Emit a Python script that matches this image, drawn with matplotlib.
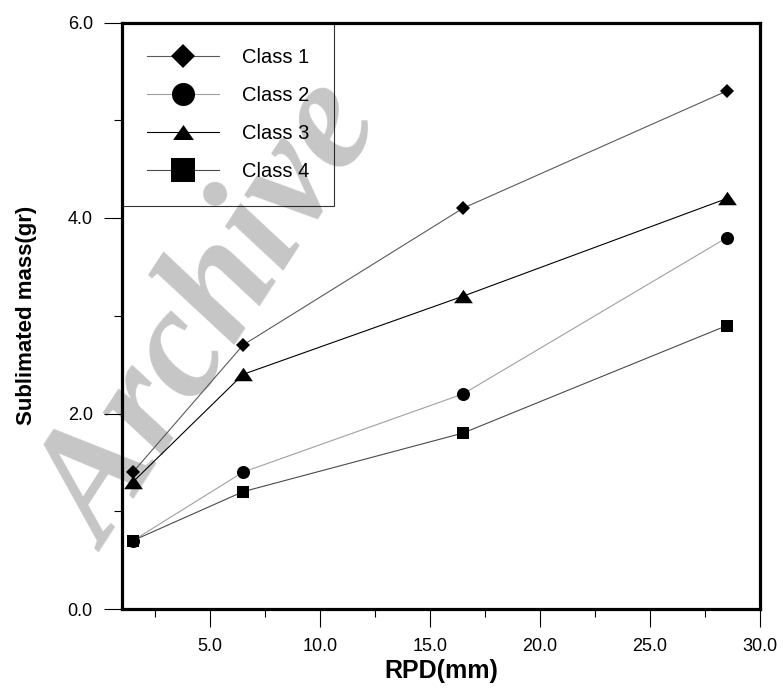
import matplotlib
matplotlib.use("Agg")
import matplotlib.pyplot as plt
from matplotlib.lines import Line2D
from matplotlib.ticker import MultipleLocator, FormatStrFormatter

plt.rcParams['font.family'] = ['Liberation Sans', 'DejaVu Sans']

# ---- data ----
rpd = [1.5, 6.5, 16.5, 28.5]
class1 = [1.4, 2.7, 4.1, 5.3]
class2 = [0.7, 1.4, 2.2, 3.8]
class3 = [1.3, 2.4, 3.2, 4.2]
class4 = [0.7, 1.2, 1.8, 2.9]
labels = ["Class 1", "Class 2", "Class 3", "Class 4"]
xlabel = "RPD(mm)"
ylabel = "Sublimated mass(gr)"

# ---- styles ----
tri = [(0, 0.72), (-1, -0.72), (1, -0.72)]
styles = [
    dict(color="#5a5a5a", marker="D", ms=7.0, lms=12.0),
    dict(color="#a0a0a0", marker="o", ms=9.4, lms=16.6),
    dict(color="#000000", marker=tri, ms=13.5, lms=15.0),
    dict(color="#4a4a4a", marker="s", ms=9.0, lms=17.0),
]
series = [class1, class2, class3, class4]

fig = plt.figure(figsize=(7.83, 6.89), dpi=100)
ax = fig.add_axes([122 / 783, 1 - 609 / 689, (760 - 122) / 783, (609 - 22.5) / 689])

# watermark (behind everything)
fig.text(215 / 783, 1 - 318 / 689, "Archive", fontsize=114, color="#c6c6c6",
         family=["Liberation Serif", "DejaVu Serif"], style="italic", weight="bold",
         rotation=57, ha="center", va="center", zorder=-1)
ax.set_facecolor("none")

for ys, st in zip(series, styles):
    ax.plot(rpd, ys, color=st["color"], lw=0.8, marker=st["marker"], ms=st["ms"],
            mfc="black", mec="black", mew=0, zorder=3)

ax.set_xlim(1, 30)
ax.set_ylim(0, 6)
ax.xaxis.set_major_locator(MultipleLocator(5))
ax.xaxis.set_minor_locator(MultipleLocator(2.5))
ax.yaxis.set_major_locator(MultipleLocator(2))
ax.yaxis.set_minor_locator(MultipleLocator(1))
ax.xaxis.set_major_formatter(FormatStrFormatter("%.1f"))
ax.yaxis.set_major_formatter(FormatStrFormatter("%.1f"))
ax.tick_params(which="major", direction="out", length=13, width=0.8, labelsize=13, pad=8)
ax.tick_params(which="minor", direction="out", length=6, width=0.8)
for sp in ax.spines.values():
    sp.set_linewidth(2.3)

ax.set_xlabel(xlabel, fontsize=18, fontweight="bold", labelpad=3)
ax.set_ylabel(ylabel, fontsize=16, fontweight="bold", labelpad=22)

handles = [Line2D([], [], color=st["color"], lw=0.8, marker=st["marker"], ms=st["lms"],
                  mfc="black", mec="black", mew=0) for st in styles]
leg = ax.legend(handles, labels, loc="upper left", borderaxespad=0, fontsize=14.5,
                frameon=True, fancybox=False, edgecolor="black", facecolor="none",
                borderpad=1.25, handlelength=3.55, handletextpad=1.15, labelspacing=0.95,
                numpoints=1)
leg.get_frame().set_linewidth(0.8)

fig.savefig("out.png", dpi=100)
